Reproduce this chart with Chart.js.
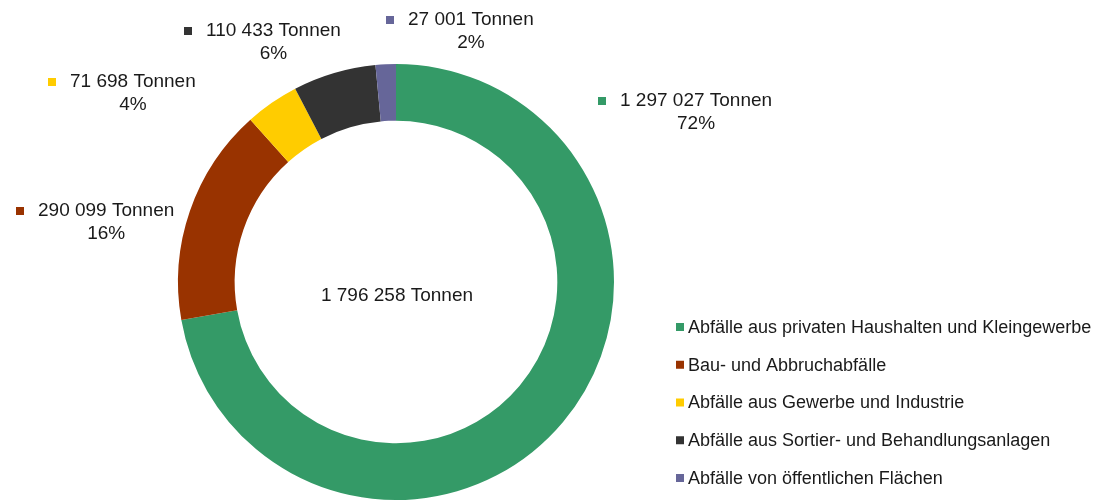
<!DOCTYPE html>
<html>
<head>
<meta charset="utf-8">
<script src="https://cdn.jsdelivr.net/npm/chart.js@4.4.1/dist/chart.umd.min.js"></script>
<style>
  html, body { margin: 0; padding: 0; background: #ffffff; }
  #wrap { width: 1110px; height: 502px; position: relative; }
</style>
</head>
<body>
<div id="wrap"><canvas id="c" width="1110" height="502"></canvas></div>
<script>
// ---- data ----
const categories = [
  'Abfälle aus privaten Haushalten und Kleingewerbe',
  'Bau- und Abbruchabfälle',
  'Abfälle aus Gewerbe und Industrie',
  'Abfälle aus Sortier- und Behandlungsanlagen',
  'Abfälle von öffentlichen Flächen'
];
const tonnes = [1297027, 290099, 71698, 110433, 27001];
const valueLabels = ['1 297 027 Tonnen', '290 099 Tonnen', '71 698 Tonnen', '110 433 Tonnen', '27 001 Tonnen'];
const percentLabels = ['72%', '16%', '4%', '6%', '2%'];
const totalLabel = '1 796 258 Tonnen';

// ---- styles / layout ----
const colors = ['#349A67', '#993300', '#FFCC00', '#333333', '#666699'];
const textColor = '#1a1a1a';
const fontFamily = '"Liberation Sans", Arial, sans-serif';
// label text-left x, line-1 middle y
const labelAnchors = [[620, 101], [38, 211], [70, 82], [206, 31], [408, 20]];

const labelPlugin = {
  id: 'labels',
  afterDraw(chart) {
    const ctx = chart.ctx;
    const meta = chart.getDatasetMeta(0);
    ctx.save();
    // center text
    const arc0 = meta.data[0];
    ctx.fillStyle = textColor;
    ctx.font = '19px ' + fontFamily;
    ctx.textAlign = 'center';
    ctx.textBaseline = 'middle';
    ctx.fillText(totalLabel, arc0.x + 1, arc0.y + 14);

    // data labels
    for (let i = 0; i < tonnes.length; i++) {
      const [x, y] = labelAnchors[i];
      ctx.font = '19px ' + fontFamily;
      ctx.textAlign = 'left';
      ctx.textBaseline = 'middle';
      const w = ctx.measureText(valueLabels[i]).width;
      ctx.fillStyle = colors[i];
      ctx.fillRect(x - 22, y - 4, 8, 8);
      ctx.fillStyle = textColor;
      ctx.fillText(valueLabels[i], x, y);
      ctx.textAlign = 'center';
      ctx.fillText(percentLabels[i], x + w / 2, y + 23);
    }

    // legend
    const lx = 688, ly0 = 327, step = 37.75;
    ctx.font = '18px ' + fontFamily;
    ctx.textAlign = 'left';
    ctx.textBaseline = 'middle';
    for (let i = 0; i < categories.length; i++) {
      const y = ly0 + i * step;
      ctx.fillStyle = colors[i];
      ctx.fillRect(lx - 12, y - 4, 8, 8);
      ctx.fillStyle = textColor;
      ctx.fillText(categories[i], lx, y + 1);
    }
    ctx.restore();
  }
};

new Chart(document.getElementById('c'), {
  type: 'doughnut',
  data: {
    labels: categories,
    datasets: [{
      data: tonnes,
      backgroundColor: colors,
      borderWidth: 0,
      hoverOffset: 0
    }]
  },
  options: {
    responsive: false,
    animation: false,
    cutout: '74%',
    rotation: 0,
    layout: { padding: { top: 64, bottom: 2, left: 178, right: 496 } },
    plugins: {
      legend: { display: false },
      tooltip: { enabled: false }
    }
  },
  plugins: [labelPlugin]
});
</script>
</body>
</html>
